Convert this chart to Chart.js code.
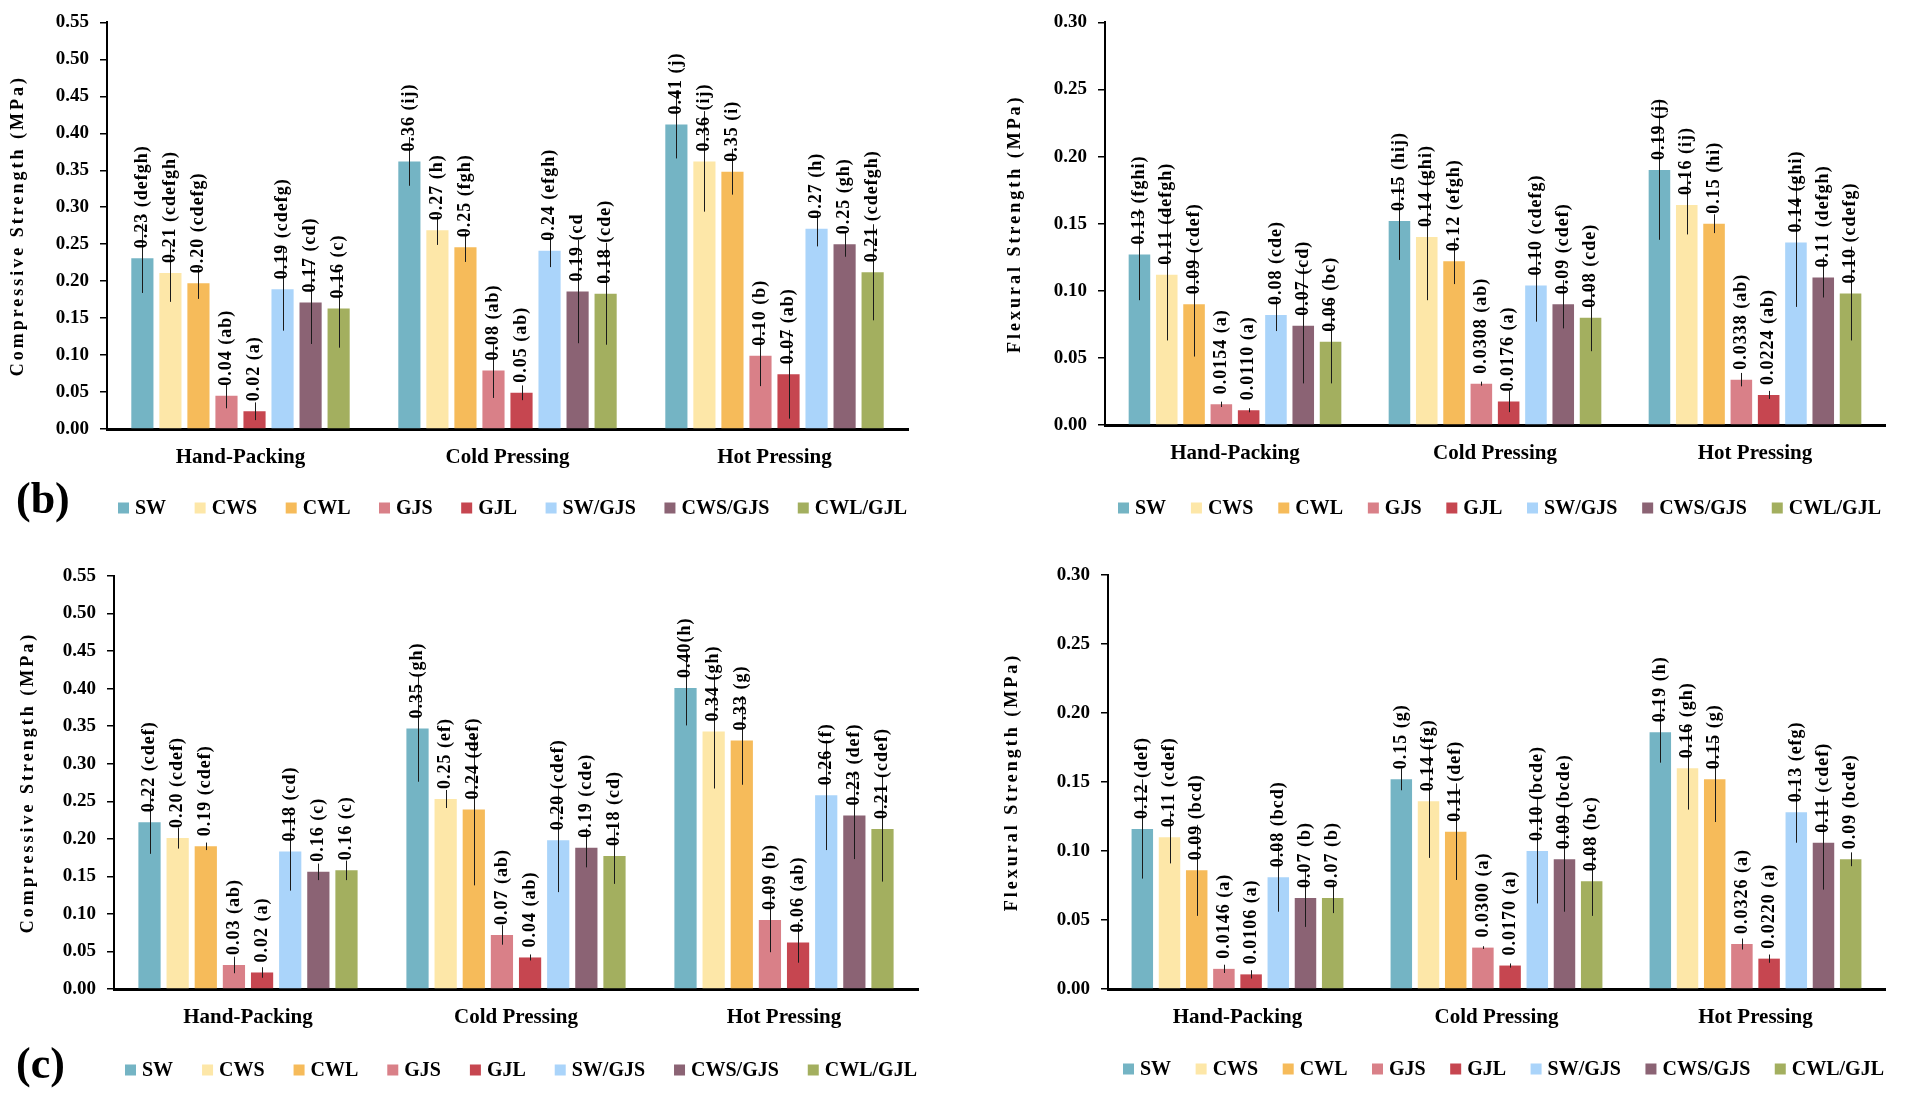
<!DOCTYPE html>
<html>
<head>
<meta charset="utf-8">
<script src="https://cdn.jsdelivr.net/npm/chart.js@4.4.1/dist/chart.umd.min.js"></script>
<style>
  html, body { margin: 0; padding: 0; background: #fff; }
  #wrap { position: relative; width: 1905px; height: 1098px; overflow: hidden; }
  canvas { position: absolute; }
</style>
</head>
<body>
<div id="wrap">
  <canvas id="compB"></canvas>
  <canvas id="flexB"></canvas>
  <canvas id="compC"></canvas>
  <canvas id="flexC"></canvas>
</div>
<script>
const categories = ['Hand-Packing', 'Cold Pressing', 'Hot Pressing'];
const seriesNames = ['SW', 'CWS', 'CWL', 'GJS', 'GJL', 'SW/GJS', 'CWS/GJS', 'CWL/GJL'];
const seriesColors = ['#74b4c4', '#fde7a8', '#f6bb5a', '#d98088', '#c64650', '#aad4fa', '#8b6374', '#a3af5f'];

// (b) compressive: one row per category, one column per series
const compBMean = [
  [0.231, 0.211, 0.197, 0.045, 0.024, 0.189, 0.171, 0.163],
  [0.362, 0.269, 0.246, 0.079, 0.049, 0.241, 0.186, 0.183],
  [0.412, 0.362, 0.348, 0.099, 0.074, 0.271, 0.250, 0.212]
];
const compBErr = [
  [0.047, 0.039, 0.021, 0.017, 0.012, 0.056, 0.056, 0.053],
  [0.033, 0.020, 0.020, 0.037, 0.010, 0.022, 0.070, 0.069],
  [0.046, 0.068, 0.031, 0.041, 0.060, 0.024, 0.017, 0.065]
];
const compBLabels = [
  ['0.23 (defgh)', '0.21 (cdefgh)', '0.20 (cdefg)', '0.04 (ab)', '0.02 (a)', '0.19 (cdefg)', '0.17 (cd)', '0.16 (c)'],
  ['0.36 (ij)', '0.27 (h)', '0.25 (fgh)', '0.08 (ab)', '0.05 (ab)', '0.24 (efgh)', '0.19 (cd', '0.18 (cde)'],
  ['0.41 (j)', '0.36 (ij)', '0.35 (i)', '0.10 (b)', '0.07 (ab)', '0.27 (h)', '0.25 (gh)', '0.21 (cdefgh)']
];

// (b) flexural
const flexBMean = [
  [0.127, 0.112, 0.090, 0.0154, 0.0110, 0.082, 0.074, 0.062],
  [0.152, 0.140, 0.122, 0.0308, 0.0176, 0.104, 0.090, 0.080],
  [0.190, 0.164, 0.150, 0.0338, 0.0224, 0.136, 0.110, 0.098]
];
const flexBErr = [
  [0.034, 0.049, 0.039, 0.002, 0.0015, 0.012, 0.043, 0.031],
  [0.029, 0.047, 0.017, 0.0015, 0.008, 0.027, 0.018, 0.025],
  [0.052, 0.022, 0.007, 0.005, 0.003, 0.048, 0.015, 0.035]
];
const flexBLabels = [
  ['0.13 (fghi)', '0.11 (defgh)', '0.09 (cdef)', '0.0154 (a)', '0.0110 (a)', '0.08 (cde)', '0.07 (cd)', '0.06 (bc)'],
  ['0.15 (hij)', '0.14 (ghi)', '0.12 (efgh)', '0.0308 (ab)', '0.0176 (a)', '0.10 (cdefg)', '0.09 (cdef)', '0.08 (cde)'],
  ['0.19 (j)', '0.16 (ij)', '0.15 (hi)', '0.0338 (ab)', '0.0224 (ab)', '0.14 (ghi)', '0.11 (defgh)', '0.10 (cdefg)']
];

// (c) compressive
const compCMean = [
  [0.222, 0.201, 0.190, 0.032, 0.022, 0.183, 0.156, 0.158],
  [0.347, 0.253, 0.239, 0.072, 0.042, 0.198, 0.188, 0.177],
  [0.401, 0.343, 0.331, 0.092, 0.062, 0.258, 0.231, 0.213]
];
const compCErr = [
  [0.042, 0.014, 0.005, 0.011, 0.007, 0.052, 0.011, 0.013],
  [0.071, 0.012, 0.101, 0.013, 0.004, 0.069, 0.026, 0.037],
  [0.050, 0.076, 0.059, 0.043, 0.027, 0.073, 0.058, 0.070]
];
const compCLabels = [
  ['0.22 (cdef)', '0.20 (cdef)', '0.19 (cdef)', '0.03 (ab)', '0.02 (a)', '0.18 (cd)', '0.16 (c)', '0.16 (c)'],
  ['0.35 (gh)', '0.25 (ef)', '0.24 (def)', '0.07 (ab)', '0.04 (ab)', '0.20 (cdef)', '0.19 (cde)', '0.18 (cd)'],
  ['0.40(h)', '0.34 (gh)', '0.33 (g)', '0.09 (b)', '0.06 (ab)', '0.26 (f)', '0.23 (def)', '0.21 (cdef)']
];

// (c) flexural
const flexCMean = [
  [0.116, 0.110, 0.086, 0.0146, 0.0106, 0.081, 0.066, 0.066],
  [0.152, 0.136, 0.114, 0.0300, 0.0170, 0.100, 0.094, 0.078],
  [0.186, 0.160, 0.152, 0.0326, 0.0220, 0.128, 0.106, 0.094]
];
const flexCErr = [
  [0.036, 0.019, 0.033, 0.003, 0.003, 0.025, 0.021, 0.011],
  [0.008, 0.041, 0.035, 0.001, 0.0015, 0.038, 0.038, 0.025],
  [0.022, 0.030, 0.031, 0.004, 0.003, 0.022, 0.034, 0.005]
];
const flexCLabels = [
  ['0.12 (def)', '0.11 (cdef)', '0.09 (bcd)', '0.0146 (a)', '0.0106 (a)', '0.08 (bcd)', '0.07 (b)', '0.07 (b)'],
  ['0.15 (g)', '0.14 (fg)', '0.11 (def)', '0.0300 (a)', '0.0170 (a)', '0.10 (bcde)', '0.09 (bcde)', '0.08 (bc)'],
  ['0.19 (h)', '0.16 (gh)', '0.15 (g)', '0.0326 (a)', '0.0220 (a)', '0.13 (efg)', '0.11 (cdef)', '0.09 (bcde)']
];

const FONT = "'Liberation Serif', 'Times New Roman', serif";
const XH = 50;

function makePanel(p) {
  const cv = document.getElementById(p.id);
  cv.width = p.w; cv.height = p.h;
  cv.style.left = p.left + 'px'; cv.style.top = p.top + 'px';
  cv.style.width = p.w + 'px'; cv.style.height = p.h + 'px';

  const datasets = seriesNames.map((name, s) => ({
    label: name,
    data: categories.map((c, ci) => p.mean[ci][s]),
    backgroundColor: seriesColors[s],
    borderWidth: 0,
    categoryPercentage: 0.84,
    barPercentage: 0.79
  }));

  const decor = {
    id: 'decor',
    afterDatasetsDraw(chart) {
      const ctx = chart.ctx, ys = chart.scales.y;
      ctx.save();
      // error bars
      ctx.strokeStyle = '#1a1a1a';
      ctx.lineWidth = 1;
      datasets.forEach((ds, s) => {
        chart.getDatasetMeta(s).data.forEach((bar, ci) => {
          const m = p.mean[ci][s], e = p.err[ci][s];
          const x = Math.round(bar.x) + 0.5;
          ctx.beginPath();
          ctx.moveTo(x, ys.getPixelForValue(m + e));
          ctx.lineTo(x, ys.getPixelForValue(Math.max(0, m - e)));
          ctx.stroke();
        });
      });
      // rotated value labels
      ctx.fillStyle = '#000';
      ctx.font = 'bold 18px ' + FONT;
      ctx.letterSpacing = '1px';
      ctx.textAlign = 'left';
      ctx.textBaseline = 'middle';
      datasets.forEach((ds, s) => {
        chart.getDatasetMeta(s).data.forEach((bar, ci) => {
          ctx.save();
          ctx.translate(bar.x, bar.y - 10);
          ctx.rotate(-Math.PI / 2);
          ctx.fillText(p.labels[ci][s], 0, 0);
          ctx.restore();
        });
      });
      ctx.restore();
    },
    afterDraw(chart) {
      const ctx = chart.ctx, area = chart.chartArea;
      ctx.save();
      ctx.fillStyle = '#000';
      // y axis title
      ctx.font = 'bold 18px ' + FONT;
      ctx.letterSpacing = '3px';
      ctx.textAlign = 'center';
      ctx.textBaseline = 'middle';
      ctx.translate(p.titleX, (area.top + area.bottom) / 2);
      ctx.rotate(-Math.PI / 2);
      ctx.fillText(p.yTitle, 0, 0);
      ctx.restore();

      // legend
      ctx.save();
      ctx.letterSpacing = '0px';
      ctx.font = 'bold 20px ' + FONT;
      ctx.textBaseline = 'middle';
      ctx.textAlign = 'left';
      const box = 11, gapText = 6;
      const widths = seriesNames.map(n => ctx.measureText(n).width);
      const used = widths.reduce((a, b) => a + b, 0) + seriesNames.length * (box + gapText);
      const gap = (p.legend.x1 - p.legend.x0 - used) / (seriesNames.length - 1);
      let x = p.legend.x0;
      seriesNames.forEach((n, s) => {
        ctx.fillStyle = seriesColors[s];
        ctx.fillRect(x, p.legend.y - box / 2, box, box);
        ctx.fillStyle = '#000';
        ctx.fillText(n, x + box + gapText, p.legend.y + 1);
        x += box + gapText + widths[s] + gap;
      });
      // panel tag
      if (p.tag) {
        ctx.font = 'bold 44px ' + FONT;
        ctx.fillText(p.tag.text, p.tag.x, p.tag.y);
      }
      ctx.restore();
    }
  };

  return new Chart(cv.getContext('2d'), {
    type: 'bar',
    data: { labels: categories, datasets: datasets },
    options: {
      responsive: false,
      animation: false,
      layout: {
        padding: { left: 0, top: p.plotTop, right: p.w - p.plotRight, bottom: p.h - p.plotBottom - XH }
      },
      plugins: { legend: { display: false }, tooltip: { enabled: false } },
      scales: {
        x: {
          grid: { display: false },
          border: { display: true, color: '#000', width: 3 },
          ticks: { color: '#000', padding: p.xPad, font: { family: FONT, size: 21, weight: 'bold' } },
          afterFit: s => { s.height = XH; }
        },
        y: {
          min: 0,
          max: p.ymax,
          grid: { display: true, drawOnChartArea: false, drawTicks: true, tickLength: 7, color: '#000', lineWidth: 1.5 },
          border: { display: true, color: '#000', width: 2 },
          ticks: {
            stepSize: 0.05,
            color: '#000',
            padding: 11,
            font: { family: FONT, size: 19, weight: 'bold' },
            callback: v => Number(v).toFixed(2)
          },
          afterFit: s => { s.width = p.axisX; }
        }
      }
    },
    plugins: [decor]
  });
}

makePanel({
  id: 'compB', left: 0, top: 0, w: 960, h: 549,
  axisX: 107, plotTop: 15, plotRight: 908, plotBottom: 429, xPad: 8,
  ymax: 0.55, yTitle: 'Compressive Strength (MPa)', titleX: 18,
  mean: compBMean, err: compBErr, labels: compBLabels,
  legend: { x0: 118, x1: 907, y: 508 },
  tag: { text: '(b)', x: 16, y: 502 }
});
makePanel({
  id: 'flexB', left: 960, top: 0, w: 945, h: 549,
  axisX: 145, plotTop: 15, plotRight: 925, plotBottom: 425, xPad: 8,
  ymax: 0.30, yTitle: 'Flexural Strength (MPa)', titleX: 55,
  mean: flexBMean, err: flexBErr, labels: flexBLabels,
  legend: { x0: 158, x1: 921, y: 508 }
});
makePanel({
  id: 'compC', left: 0, top: 549, w: 960, h: 549,
  axisX: 114, plotTop: 27, plotRight: 918, plotBottom: 440, xPad: 8,
  ymax: 0.55, yTitle: 'Compressive Strength (MPa)', titleX: 28,
  mean: compCMean, err: compCErr, labels: compCLabels,
  legend: { x0: 125, x1: 917, y: 521 },
  tag: { text: '(c)', x: 16, y: 518 }
});
makePanel({
  id: 'flexC', left: 960, top: 549, w: 945, h: 549,
  axisX: 148, plotTop: 26, plotRight: 925, plotBottom: 440, xPad: 8,
  ymax: 0.30, yTitle: 'Flexural Strength (MPa)', titleX: 52,
  mean: flexCMean, err: flexCErr, labels: flexCLabels,
  legend: { x0: 163, x1: 924, y: 520 }
});
</script>
</body>
</html>
